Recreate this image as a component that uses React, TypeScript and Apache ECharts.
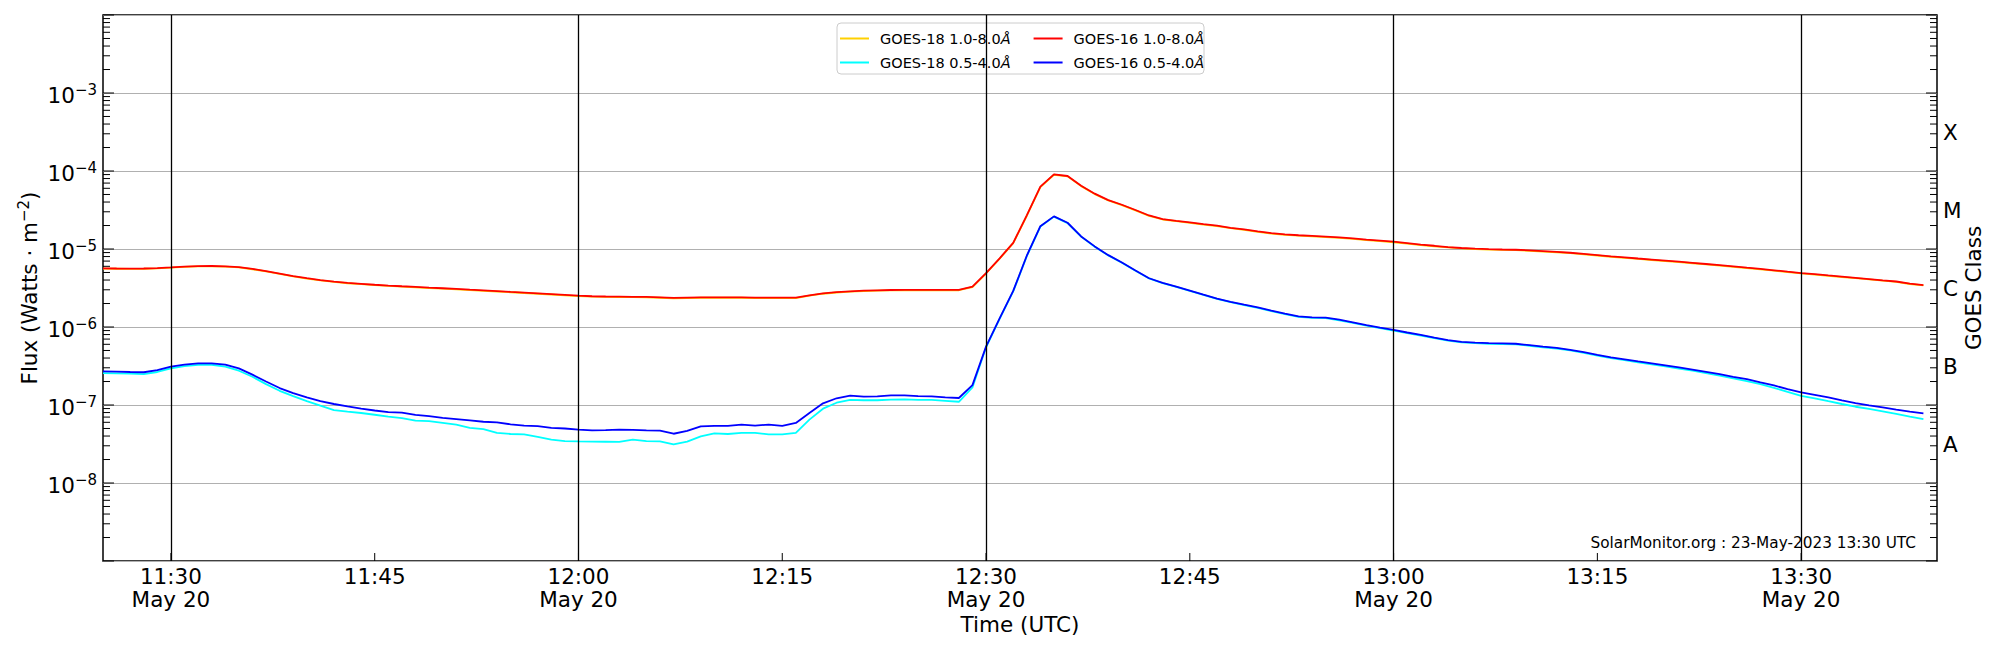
import React, { useEffect, useRef } from "react";
import * as echarts from "echarts";

const START_MINUTE = 685; // 11:25 UTC
const END_MINUTE = 820; // 13:40 UTC
const DATE_LABEL = "May 20";
const Y_MIN = 1e-9;
const Y_MAX = 1e-2;

const NAME_G18_LONG = "GOES-18 1.0-8.0Å";
const NAME_G18_SHORT = "GOES-18 0.5-4.0Å";
const NAME_G16_LONG = "GOES-16 1.0-8.0Å";
const NAME_G16_SHORT = "GOES-16 0.5-4.0Å";

const G16_LONG = [
  5.65e-6, 5.62e-6, 5.6e-6, 5.62e-6, 5.7e-6, 5.82e-6, 5.95e-6, 6.02e-6, 6.05e-6, 6.0e-6,
  5.85e-6, 5.55e-6, 5.2e-6, 4.85e-6, 4.5e-6, 4.22e-6, 4.0e-6, 3.82e-6, 3.68e-6, 3.58e-6,
  3.48e-6, 3.4e-6, 3.33e-6, 3.27e-6, 3.2e-6, 3.14e-6, 3.08e-6, 3.01e-6, 2.95e-6, 2.89e-6,
  2.82e-6, 2.76e-6, 2.7e-6, 2.64e-6, 2.58e-6, 2.52e-6, 2.48e-6, 2.46e-6, 2.45e-6, 2.44e-6,
  2.43e-6, 2.4e-6, 2.36e-6, 2.38e-6, 2.4e-6, 2.4e-6, 2.4e-6, 2.4e-6, 2.38e-6, 2.38e-6,
  2.38e-6, 2.38e-6, 2.55e-6, 2.7e-6, 2.8e-6, 2.87e-6, 2.92e-6, 2.95e-6, 2.98e-6, 2.99e-6,
  3.0e-6, 2.99e-6, 2.99e-6, 2.99e-6, 3.29e-6, 4.9e-6, 7.6e-6, 1.2e-5, 2.7e-5, 6.3e-5,
  9.06e-5, 8.63e-5, 6.48e-5, 5.12e-5, 4.24e-5, 3.69e-5, 3.16e-5, 2.69e-5, 2.42e-5, 2.3e-5,
  2.19e-5, 2.08e-5, 1.99e-5, 1.87e-5, 1.78e-5, 1.68e-5, 1.6e-5, 1.54e-5, 1.5e-5, 1.47e-5,
  1.44e-5, 1.41e-5, 1.37e-5, 1.32e-5, 1.28e-5, 1.24e-5, 1.19e-5, 1.14e-5, 1.1e-5, 1.06e-5,
  1.03e-5, 1.01e-5, 9.95e-6, 9.85e-6, 9.78e-6, 9.6e-6, 9.4e-6, 9.2e-6, 8.95e-6, 8.65e-6,
  8.35e-6, 8.05e-6, 7.8e-6, 7.55e-6, 7.32e-6, 7.1e-6, 6.88e-6, 6.65e-6, 6.42e-6, 6.2e-6,
  5.98e-6, 5.76e-6, 5.55e-6, 5.33e-6, 5.12e-6, 4.92e-6, 4.75e-6, 4.58e-6, 4.42e-6, 4.27e-6,
  4.12e-6, 3.97e-6, 3.83e-6, 3.6e-6, 3.45e-6,
];

const G18_LONG = [
  5.6e-6, 5.58e-6, 5.56e-6, 5.58e-6, 5.66e-6, 5.78e-6, 5.9e-6, 5.98e-6, 6.0e-6, 5.95e-6,
  5.8e-6, 5.5e-6, 5.15e-6, 4.8e-6, 4.46e-6, 4.18e-6, 3.96e-6, 3.78e-6, 3.64e-6, 3.54e-6,
  3.44e-6, 3.36e-6, 3.29e-6, 3.23e-6, 3.16e-6, 3.1e-6, 3.04e-6, 2.97e-6, 2.91e-6, 2.85e-6,
  2.79e-6, 2.73e-6, 2.67e-6, 2.61e-6, 2.55e-6, 2.49e-6, 2.45e-6, 2.43e-6, 2.42e-6, 2.41e-6,
  2.4e-6, 2.37e-6, 2.33e-6, 2.35e-6, 2.37e-6, 2.37e-6, 2.37e-6, 2.37e-6, 2.35e-6, 2.35e-6,
  2.35e-6, 2.35e-6, 2.52e-6, 2.67e-6, 2.77e-6, 2.84e-6, 2.89e-6, 2.92e-6, 2.95e-6, 2.96e-6,
  2.97e-6, 2.96e-6, 2.96e-6, 2.96e-6, 3.25e-6, 4.85e-6, 7.5e-6, 1.19e-5, 2.67e-5, 6.2e-5,
  8.95e-5, 8.55e-5, 6.4e-5, 5.06e-5, 4.19e-5, 3.65e-5, 3.12e-5, 2.66e-5, 2.39e-5, 2.27e-5,
  2.16e-5, 2.05e-5, 1.96e-5, 1.85e-5, 1.76e-5, 1.66e-5, 1.58e-5, 1.52e-5, 1.48e-5, 1.45e-5,
  1.42e-5, 1.39e-5, 1.35e-5, 1.3e-5, 1.26e-5, 1.22e-5, 1.17e-5, 1.12e-5, 1.08e-5, 1.05e-5,
  1.02e-5, 9.98e-6, 9.83e-6, 9.73e-6, 9.66e-6, 9.48e-6, 9.28e-6, 9.08e-6, 8.84e-6, 8.54e-6,
  8.25e-6, 7.95e-6, 7.7e-6, 7.46e-6, 7.23e-6, 7.01e-6, 6.8e-6, 6.57e-6, 6.34e-6, 6.12e-6,
  5.9e-6, 5.69e-6, 5.48e-6, 5.27e-6, 5.06e-6, 4.86e-6, 4.69e-6, 4.52e-6, 4.37e-6, 4.22e-6,
  4.07e-6, 3.92e-6, 3.78e-6, 3.56e-6, 3.41e-6,
];

const G16_SHORT = [
  2.7e-7, 2.68e-7, 2.65e-7, 2.63e-7, 2.8e-7, 3.1e-7, 3.3e-7, 3.42e-7, 3.42e-7, 3.3e-7,
  2.95e-7, 2.45e-7, 2.0e-7, 1.65e-7, 1.42e-7, 1.25e-7, 1.12e-7, 1.03e-7, 9.6e-8, 9.0e-8,
  8.5e-8, 8.1e-8, 8.0e-8, 7.45e-8, 7.2e-8, 6.85e-8, 6.6e-8, 6.35e-8, 6.1e-8, 6.0e-8,
  5.65e-8, 5.45e-8, 5.35e-8, 5.1e-8, 5.0e-8, 4.83e-8, 4.73e-8, 4.75e-8, 4.83e-8, 4.8e-8,
  4.73e-8, 4.7e-8, 4.28e-8, 4.65e-8, 5.32e-8, 5.4e-8, 5.4e-8, 5.6e-8, 5.45e-8, 5.6e-8,
  5.4e-8, 5.88e-8, 7.9e-8, 1.05e-7, 1.22e-7, 1.32e-7, 1.28e-7, 1.29e-7, 1.33e-7, 1.33e-7,
  1.3e-7, 1.29e-7, 1.25e-7, 1.23e-7, 1.8e-7, 5.6e-7, 1.29e-6, 2.9e-6, 8.2e-6, 1.96e-5,
  2.62e-5, 2.17e-5, 1.45e-5, 1.08e-5, 8.34e-6, 6.71e-6, 5.3e-6, 4.22e-6, 3.67e-6, 3.3e-6,
  2.93e-6, 2.6e-6, 2.31e-6, 2.1e-6, 1.93e-6, 1.78e-6, 1.62e-6, 1.48e-6, 1.37e-6, 1.33e-6,
  1.32e-6, 1.24e-6, 1.15e-6, 1.06e-6, 9.8e-7, 9.16e-7, 8.5e-7, 7.9e-7, 7.3e-7, 6.8e-7,
  6.45e-7, 6.3e-7, 6.2e-7, 6.15e-7, 6.1e-7, 5.85e-7, 5.6e-7, 5.4e-7, 5.1e-7, 4.75e-7,
  4.4e-7, 4.08e-7, 3.85e-7, 3.62e-7, 3.42e-7, 3.22e-7, 3.03e-7, 2.85e-7, 2.66e-7, 2.48e-7,
  2.3e-7, 2.14e-7, 1.95e-7, 1.78e-7, 1.6e-7, 1.45e-7, 1.35e-7, 1.25e-7, 1.15e-7, 1.06e-7,
  9.9e-8, 9.3e-8, 8.7e-8, 8.2e-8, 7.8e-8,
];

const G18_SHORT = [
  2.57e-7, 2.55e-7, 2.52e-7, 2.49e-7, 2.65e-7, 2.95e-7, 3.15e-7, 3.26e-7, 3.28e-7, 3.1e-7,
  2.75e-7, 2.3e-7, 1.85e-7, 1.52e-7, 1.3e-7, 1.12e-7, 9.8e-8, 8.6e-8, 8.2e-8, 7.9e-8,
  7.5e-8, 7.1e-8, 6.8e-8, 6.3e-8, 6.2e-8, 5.9e-8, 5.6e-8, 5.1e-8, 4.9e-8, 4.4e-8,
  4.25e-8, 4.2e-8, 3.9e-8, 3.6e-8, 3.45e-8, 3.42e-8, 3.4e-8, 3.38e-8, 3.36e-8, 3.6e-8,
  3.45e-8, 3.42e-8, 3.13e-8, 3.4e-8, 3.96e-8, 4.33e-8, 4.25e-8, 4.38e-8, 4.38e-8, 4.2e-8,
  4.2e-8, 4.4e-8, 6.49e-8, 8.97e-8, 1.07e-7, 1.16e-7, 1.15e-7, 1.15e-7, 1.17e-7, 1.18e-7,
  1.16e-7, 1.16e-7, 1.13e-7, 1.1e-7, 1.68e-7, 5.5e-7, 1.27e-6, 2.86e-6, 8.1e-6, 1.94e-5,
  2.6e-5, 2.15e-5, 1.44e-5, 1.07e-5, 8.28e-6, 6.66e-6, 5.26e-6, 4.19e-6, 3.64e-6, 3.27e-6,
  2.9e-6, 2.58e-6, 2.29e-6, 2.08e-6, 1.91e-6, 1.76e-6, 1.6e-6, 1.46e-6, 1.35e-6, 1.31e-6,
  1.3e-6, 1.22e-6, 1.13e-6, 1.04e-6, 9.65e-7, 9.0e-7, 8.35e-7, 7.78e-7, 7.2e-7, 6.7e-7,
  6.35e-7, 6.2e-7, 6.1e-7, 6.05e-7, 6.0e-7, 5.75e-7, 5.5e-7, 5.3e-7, 5.0e-7, 4.65e-7,
  4.3e-7, 3.98e-7, 3.75e-7, 3.52e-7, 3.32e-7, 3.12e-7, 2.93e-7, 2.75e-7, 2.56e-7, 2.38e-7,
  2.2e-7, 2.03e-7, 1.85e-7, 1.66e-7, 1.47e-7, 1.31e-7, 1.22e-7, 1.12e-7, 1.03e-7, 9.5e-8,
  8.9e-8, 8.3e-8, 7.7e-8, 7.1e-8, 6.6e-8,
];

// one sample per minute starting at 11:25
const TIMES = G16_LONG.map((_, i) => START_MINUTE + i);

const VLINE_TIMES = [690, 720, 750, 780, 810];
const XTICK_TIMES = [690, 705, 720, 735, 750, 765, 780, 795, 810];
const DECADE_EXPONENTS = [-9, -8, -7, -6, -5, -4, -3, -2];
const MINOR_MULTIPLIERS = [2, 3, 4, 5, 6, 7, 8, 9];
const CLASS_LABELS = ["A", "B", "C", "M", "X"];
const CLASS_VALUES = [3.162e-8, 3.162e-7, 3.162e-6, 3.162e-5, 3.162e-4];

const WATERMARK = "SolarMonitor.org : 23-May-2023 13:30 UTC";
const FONT = "DejaVu Sans";
const FS = 21.5;
const FS_SUP = 15;
const FS_LEGEND = 14.5;

const MAJOR_TICKS = DECADE_EXPONENTS.map((e) => Math.pow(10, e));
const MINOR_TICKS: number[] = [];
DECADE_EXPONENTS.slice(0, -1).forEach((e) =>
  MINOR_MULTIPLIERS.forEach((m) => MINOR_TICKS.push(m * Math.pow(10, e)))
);

function fmtTime(m: number) {
  const h = Math.floor(m / 60);
  const mm = m % 60;
  return `${h}:${String(mm).padStart(2, "0")}`;
}

function pairs(values: number[]) {
  return values.map((v, i) => [TIMES[i], v]);
}

function tickSeries(values: number[], len: number) {
  return {
    type: "custom",
    silent: true,
    z: 6,
    clip: false,
    data: values.map((v) => [START_MINUTE, v]),
    renderItem: (params: any, api: any) => {
      const v = api.value(1);
      const pl = api.coord([START_MINUTE, v]);
      const pr = api.coord([END_MINUTE, v]);
      const st = { stroke: "#000", lineWidth: 1 };
      return {
        type: "group",
        children: [
          { type: "line", shape: { x1: pl[0], y1: pl[1], x2: pl[0] + len, y2: pl[1] }, style: st },
          { type: "line", shape: { x1: pr[0], y1: pr[1], x2: pr[0] - len, y2: pr[1] }, style: st },
        ],
      };
    },
  };
}

export default function App() {
  const ref = useRef<HTMLDivElement>(null);

  useEffect(() => {
    document.body.style.margin = "0";
    const chart = echarts.init(ref.current as HTMLDivElement, null, { renderer: "svg" });

    const legendText = {
      fontSize: FS_LEGEND,
      fontFamily: FONT,
      color: "#000",
      padding: [0, 0, 0, 6],
      rich: { i: { fontSize: FS_LEGEND, fontFamily: FONT, fontStyle: "italic", color: "#000" } },
    };
    const legendFormatter = (name: string) => name.replace("Å", "{i|Å}");
    const legendBase = {
      left: 840,
      padding: 0,
      icon: "rect",
      itemWidth: 29,
      itemHeight: 2,
      itemGap: 23,
      textStyle: legendText,
      formatter: legendFormatter,
    };

    const option: any = {
      animation: false,
      backgroundColor: "#fff",
      grid: {
        left: 103,
        right: 63,
        top: 15,
        bottom: 89,
        show: true,
        borderColor: "#000",
        borderWidth: 1.5,
        backgroundColor: "transparent",
      },
      xAxis: {
        type: "value",
        min: START_MINUTE,
        max: END_MINUTE,
        interval: 5,
        axisLine: { show: false },
        axisTick: { show: false },
        splitLine: { show: false },
        axisLabel: {
          margin: 4,
          fontSize: FS,
          lineHeight: 23,
          fontFamily: FONT,
          color: "#000",
          formatter: (v: number) => {
            if (v % 15 !== 0) return "";
            const t = fmtTime(v);
            return v % 30 === 0 ? `${t}\n${DATE_LABEL}` : t;
          },
        },
      },
      yAxis: {
        type: "log",
        logBase: 10,
        min: Y_MIN,
        max: Y_MAX,
        axisLine: { show: false },
        axisTick: { show: false },
        splitLine: { show: true, lineStyle: { color: "#b0b0b0", width: 1 } },
        axisLabel: {
          margin: 6,
          fontFamily: FONT,
          color: "#000",
          formatter: (v: number) => {
            const e = Math.round(Math.log10(v));
            if (e <= -9 || e >= -2) return "";
            return `{b|10}{s|−${-e}}`;
          },
          rich: {
            b: { fontSize: FS, lineHeight: 21, padding: [4, 0, 0, 0], fontFamily: FONT, color: "#000" },
            s: { fontSize: FS_SUP, lineHeight: 15, verticalAlign: "top", fontFamily: FONT, color: "#000" },
          },
        },
      },
      legend: [
        { ...legendBase, data: [NAME_G18_LONG, NAME_G16_LONG], top: 31 },
        { ...legendBase, data: [NAME_G18_SHORT, NAME_G16_SHORT], top: 55 },
      ],
      graphic: [
        {
          type: "rect",
          z: 3,
          shape: { x: 837, y: 23, width: 367, height: 51, r: 4 },
          style: { fill: "rgba(255,255,255,0.8)", stroke: "#cccccc", lineWidth: 1 },
        },
        {
          type: "text",
          z: 5,
          x: 1916,
          y: 543,
          style: {
            text: WATERMARK,
            fontSize: 15.3,
            fontFamily: FONT,
            fill: "#000",
            align: "right",
            verticalAlign: "middle",
          },
        },
        {
          type: "text",
          z: 5,
          x: 27,
          y: 288,
          rotation: Math.PI / 2,
          style: {
            text: "{n|Flux (Watts · m}{s|−2}{n|)}",
            align: "center",
            verticalAlign: "middle",
            fill: "#000",
            rich: {
              n: { fontSize: FS, lineHeight: 21, padding: [4, 0, 0, 0], fontFamily: FONT, fill: "#000" },
              s: { fontSize: FS_SUP, lineHeight: 15, verticalAlign: "top", fontFamily: FONT, fill: "#000" },
            },
          },
        },
        {
          type: "text",
          z: 5,
          x: 1020,
          y: 624,
          style: {
            text: "Time (UTC)",
            fontSize: FS,
            fontFamily: FONT,
            fill: "#000",
            align: "center",
            verticalAlign: "middle",
          },
        },
        {
          type: "text",
          z: 5,
          x: 1973,
          y: 288,
          rotation: Math.PI / 2,
          style: {
            text: "GOES Class",
            fontSize: FS,
            fontFamily: FONT,
            fill: "#000",
            align: "center",
            verticalAlign: "middle",
          },
        },
      ],
      series: [
        {
          name: NAME_G18_LONG,
          type: "line",
          data: pairs(G18_LONG),
          symbol: "none",
          showSymbol: false,
          lineStyle: { color: "#FFD000", width: 1.8 },
          itemStyle: { color: "#FFD000" },
          z: 2,
          markLine: {
            silent: true,
            symbol: ["none", "none"],
            label: { show: false },
            lineStyle: { color: "#000", width: 1.3, type: "solid" },
            data: VLINE_TIMES.map((t) => ({ xAxis: t })),
          },
        },
        {
          name: NAME_G18_SHORT,
          type: "line",
          data: pairs(G18_SHORT),
          symbol: "none",
          showSymbol: false,
          lineStyle: { color: "#00FFFF", width: 1.8 },
          itemStyle: { color: "#00FFFF" },
          z: 2,
        },
        {
          name: NAME_G16_LONG,
          type: "line",
          data: pairs(G16_LONG),
          symbol: "none",
          showSymbol: false,
          lineStyle: { color: "#FF0000", width: 1.8 },
          itemStyle: { color: "#FF0000" },
          z: 2,
        },
        {
          name: NAME_G16_SHORT,
          type: "line",
          data: pairs(G16_SHORT),
          symbol: "none",
          showSymbol: false,
          lineStyle: { color: "#0000FF", width: 1.8 },
          itemStyle: { color: "#0000FF" },
          z: 2,
        },
        tickSeries(MINOR_TICKS, 7),
        tickSeries(MAJOR_TICKS, 11),
        {
          type: "custom",
          silent: true,
          z: 6,
          clip: false,
          data: XTICK_TIMES.map((t) => [t, Y_MIN]),
          renderItem: (params: any, api: any) => {
            const p = api.coord([api.value(0), Y_MIN]);
            return {
              type: "line",
              shape: { x1: p[0], y1: p[1], x2: p[0], y2: p[1] - 8 },
              style: { stroke: "#000", lineWidth: 1 },
            };
          },
        },
        {
          type: "custom",
          silent: true,
          z: 6,
          clip: false,
          data: CLASS_VALUES.map((v) => [END_MINUTE, v]),
          renderItem: (params: any, api: any) => {
            const p = api.coord([END_MINUTE, api.value(1)]);
            return {
              type: "text",
              x: p[0] + 6,
              y: p[1],
              style: {
                text: CLASS_LABELS[params.dataIndex],
                fontSize: FS,
                fontFamily: FONT,
                fill: "#000",
                align: "left",
                verticalAlign: "middle",
              },
            };
          },
        },
      ],
    };

    chart.setOption(option);
    return () => chart.dispose();
  }, []);

  return <div ref={ref} style={{ width: 2000, height: 650 }} />;
}
